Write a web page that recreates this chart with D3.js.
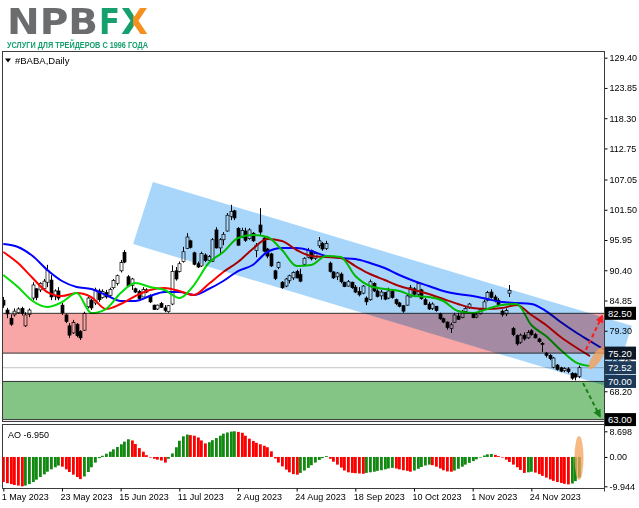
<!DOCTYPE html>
<html><head><meta charset="utf-8">
<script src="https://cdn.jsdelivr.net/npm/d3@7"></script>
<style>
body{margin:0;background:#fff;}
svg{display:block;font-family:"Liberation Sans",Arial,sans-serif;}
</style></head><body>
<svg id="c" width="639" height="508"></svg>
<script>
// ---------- DATA ----------
const dateLabels = ["1 May 2023","23 May 2023","15 Jun 2023","11 Jul 2023","2 Aug 2023","24 Aug 2023","18 Sep 2023","10 Oct 2023","1 Nov 2023","24 Nov 2023"];
const dateLabelIdx = [0,16,32,48,64,80,96,112,128,144];
const priceTicks = [129.40,123.85,118.30,112.75,107.05,101.50,95.95,90.40,84.85,79.30,73.75,68.20];
const aoTicks = [8.698,0.00,-9.944];

const opens = [84.9,83.1,81.6,82.2,82.6,83.4,80.2,82.3,85.3,87.0,86.8,87.0,88.2,88.6,85.6,86.6,84.0,82.2,80.2,78.9,80.5,79.2,79.4,83.7,84.9,84.4,86.6,85.4,86.3,85.8,
87.2,88.0,90.3,93.7,89.2,87.6,87.0,86.5,85.5,86.8,85.8,84.0,83.3,84.3,83.5,82.8,84.2,90.3,90.2,92.0,94.4,95.8,93.6,91.6,91.2,93.2,92.2,92.0,97.8,94.5,
96.0,97.6,100.3,101.3,98.1,96.4,97.6,96.2,97.2,94.0,98.7,96.3,94.3,93.4,90.3,90.9,88.2,87.5,88.5,89.0,90.2,89.6,91.5,92.8,94.0,92.6,94.9,95.3,94.4,91.7,
90.1,89.2,89.7,88.2,87.5,88.2,87.3,86.5,86.2,85.3,85.0,88.0,86.6,85.7,86.3,85.3,86.5,85.0,84.4,83.9,84.0,85.5,87.0,86.0,86.8,85.0,84.2,83.4,83.8,82.4,
81.5,80.9,79.7,80.8,82.0,81.7,82.8,83.5,82.5,81.8,82.4,83.4,84.9,86.4,85.5,84.9,82.9,82.4,86.2,79.7,78.4,77.2,78.5,78.0,79.3,78.6,77.8,77.0,75.2,74.8,
72.6,73.0,72.5,72.0,72.3,71.5,71.4,70.9];
const highs = [85.5,83.5,82.3,83.4,83.6,83.7,82.7,83.4,88.2,87.1,88.2,88.8,91.4,89.5,86.9,87.3,84.4,82.4,80.7,81.3,80.7,79.4,82.8,85.6,85.2,87.2,87.0,86.9,86.8,87.2,
88.8,89.6,92.3,94.1,89.5,89.0,87.2,86.8,87.3,87.1,86.0,84.1,84.1,84.6,84.0,84.0,91.3,91.0,92.0,94.7,97.2,96.0,93.8,92.0,93.8,93.5,93.2,96.3,98.3,96.3,
97.4,100.9,102.4,101.5,98.3,98.2,98.2,98.1,97.4,95.4,101.8,96.5,94.5,93.6,90.5,92.0,88.4,89.0,89.6,90.2,90.5,90.7,92.8,94.5,94.2,93.8,96.5,95.6,95.8,92.0,
90.2,90.1,90.0,88.3,88.6,88.3,87.7,87.3,87.7,85.6,88.7,88.2,86.9,86.8,86.4,87.2,86.8,85.2,84.6,84.0,85.9,87.7,87.3,88.2,87.0,85.3,84.6,84.5,83.8,82.6,
81.7,81.0,80.8,82.6,82.6,83.1,83.7,84.4,82.6,82.6,83.5,85.0,86.6,86.9,85.9,85.3,83.2,83.4,87.7,80.0,78.6,78.8,79.0,79.4,79.6,78.9,78.0,77.2,75.4,75.0,
74.5,73.2,72.7,72.6,72.6,71.7,71.6,72.9];
const lows = [83.5,81.6,80.2,81.9,82.4,82.1,80.0,81.8,84.9,84.9,86.4,86.7,87.3,84.9,84.9,84.9,82.2,80.7,78.0,78.7,78.1,77.6,79.3,83.4,83.1,84.0,84.6,85.2,85.2,85.5,
86.9,87.6,90.0,91.7,87.3,86.8,86.2,84.9,85.5,86.2,84.4,83.1,83.1,83.5,82.7,82.6,84.0,88.5,90.0,91.8,94.3,94.4,91.3,90.8,91.0,91.9,91.9,91.9,94.4,93.2,
95.0,97.5,99.6,99.6,94.9,96.3,95.6,96.0,95.6,92.8,96.8,93.7,92.6,91.0,88.6,90.6,87.0,87.3,88.0,88.6,88.9,88.2,91.3,92.6,92.2,92.3,94.5,94.0,94.1,90.0,
88.8,88.6,88.0,87.3,87.4,87.0,86.2,85.6,86.0,84.0,84.8,86.4,85.4,85.0,84.9,85.1,85.2,84.0,83.6,82.6,83.9,85.4,85.8,85.5,85.0,84.0,83.1,83.1,82.8,81.3,
80.7,79.5,78.9,80.7,81.3,81.6,82.5,83.3,81.6,81.6,82.3,83.3,84.7,85.2,84.5,83.9,81.9,82.0,85.5,78.3,76.6,76.9,77.5,77.8,78.4,77.9,77.1,75.4,74.4,73.9,
72.4,72.0,71.7,71.7,71.5,70.3,70.2,70.6];
const closes = [84.0,82.4,80.5,82.9,83.3,82.5,82.2,83.1,87.7,85.4,88.0,88.4,90.4,85.5,86.6,85.3,82.6,81.0,78.5,80.8,78.4,78.0,82.5,85.3,83.5,86.8,85.0,86.5,85.5,86.9,
88.5,89.4,91.8,91.9,87.5,88.8,86.4,85.2,86.9,86.4,84.6,83.2,84.0,83.6,83.0,83.9,90.2,88.8,91.6,93.8,96.5,94.6,91.5,91.0,93.5,92.2,92.9,96.0,94.5,96.0,
97.0,100.5,101.2,100.0,95.0,97.7,95.9,97.8,95.8,95.0,97.4,93.9,93.0,91.2,88.9,91.8,87.2,88.8,89.4,90.0,89.0,88.4,92.6,94.0,92.5,93.5,95.8,94.3,95.3,90.2,
89.0,89.9,88.3,87.4,88.3,87.2,86.4,85.9,87.5,84.6,88.3,86.6,85.6,86.4,85.1,86.6,85.4,84.3,83.8,82.9,85.7,87.2,86.0,88.0,85.2,84.1,83.3,84.2,83.0,81.5,
80.9,79.9,80.4,82.2,81.4,82.8,83.4,84.2,81.7,82.2,83.2,84.6,86.3,85.4,84.8,84.1,82.3,83.0,86.7,78.6,76.9,78.5,77.8,79.0,78.6,78.0,77.3,76.8,74.8,74.2,
74.3,72.2,71.9,72.4,71.8,70.6,70.8,72.52];

// Alligator lines, one value every 4 bars (index 0,4,8,...)
const lineStep = 4;
const jaw = [95.22,94.67,93.01,90.45,88.43,87.33,86.96,85.86,84.76,84.76,85.67,86.41,86.41,85.86,86.96,88.43,90.26,91.36,93.75,94.48,94.48,
93.93,93.01,92.65,92.46,91.73,90.81,89.53,88.43,87.51,86.59,86.04,85.67,85.12,84.57,84.39,84.21,82.92,80.90,79.07,77.42,75.77];
const teeth = [93.75,91.73,88.98,86.41,85.67,86.22,85.49,83.29,84.21,85.67,86.78,87.14,86.59,85.86,87.88,90.08,91.91,94.30,96.13,95.77,94.12,
93.01,92.83,92.65,91.18,89.71,88.61,87.51,86.78,86.04,85.12,84.21,83.47,83.29,83.47,84.02,82.19,80.35,78.15,76.32,74.66];
const lips = [89.53,87.33,84.76,83.66,84.57,86.22,82.55,83.29,86.22,88.06,87.33,86.78,85.31,87.69,91.73,93.75,96.32,96.87,96.50,94.12,91.18,
91.36,93.01,92.83,89.34,87.51,86.96,86.59,85.67,85.49,84.76,82.92,82.55,83.29,84.02,84.21,80.35,78.33,75.77,73.56,72.83];

// Awesome Oscillator, one value per bar
const ao = [-8.5,-8.9,-9.2,-9.5,-9.7,-9.944,-9.7,-9.2,-8.5,-7.7,-6.8,-5.9,-5.0,-4.2,-3.5,-2.9,-3.3,-4.2,-5.1,-6.0,-6.8,-7.5,-6.6,-5.1,-3.5,-1.9,-0.4,0.4,1.1,1.8,
2.6,3.4,4.3,5.2,6.0,5.6,4.4,3.0,1.8,0.6,-0.2,-0.6,-0.9,-1.2,-1.9,-0.6,1.2,3.3,5.5,7.0,7.6,7.4,7.2,6.6,5.6,4.6,5.0,5.7,6.4,7.2,
7.9,8.3,8.6,8.698,8.5,8.2,7.2,6.2,5.4,4.8,4.3,3.8,3.3,1.9,-0.5,-1.9,-3.2,-4.3,-5.2,-5.8,-6.0,-5.4,-4.6,-3.7,-2.8,-1.9,-1.0,-0.4,0.3,-0.6,
-1.6,-2.6,-3.6,-4.6,-5.2,-5.4,-5.5,-5.6,-5.7,-5.4,-5.2,-5.0,-4.7,-4.5,-4.2,-3.9,-3.7,-3.9,-4.2,-4.5,-4.7,-5.0,-4.6,-4.0,-3.4,-2.9,-2.6,-2.8,-3.3,-3.9,
-4.5,-4.9,-5.0,-4.6,-4.0,-3.3,-2.6,-2.0,-1.4,-0.8,-0.2,0.5,0.9,1.0,0.7,0.3,-0.2,-0.9,-1.7,-2.6,-3.5,-4.4,-5.4,-5.2,-5.0,-5.3,-5.8,-6.4,-7.0,-7.6,
-8.1,-8.5,-8.8,-9.1,-9.3,-9.0,-8.2,-6.95];

// Drawn objects (bar index, price)
const resistBox = [82.50, 75.20];
const supportBox = [70.00, 63.00];
const bidPrice = 72.52;
const channel = [[40.8,106.6],[171.4,80.2],[166.0,68.85],[35.4,95.2]];
const upArrow = [[158.9,75.8],[163.3,82.0]];
const downArrow = [[158.1,69.7],[162.7,63.6]];
const priceBoxes = [[82.50,"#000000"],[75.20,"#0c1828"],[72.52,"#1f3b5b"],[70.00,"#1b3858"],[63.00,"#000000"]];

// ---------- CHART ----------
const svg = d3.select("#c");
svg.append("rect").attr("width",639).attr("height",508).attr("fill","#fff");
const L = 2.5, R = 604.5, T = 51.5, B = 421.5, AT = 424.5, AB = 488.5;
const x = d3.scaleLinear().domain([0, 157]).range([3.3, 579]);
const y = d3.scaleLinear().domain([63, 129.4]).range([419.6, 57.7]);
const ya = d3.scaleLinear().domain([-9.944, 8.698]).range([486.3, 431.3]);

const defs = svg.append("defs");
defs.append("clipPath").attr("id","cm").append("rect").attr("x",L).attr("y",T).attr("width",R-L).attr("height",B-T);
defs.append("clipPath").attr("id","cobj").append("rect").attr("x",L).attr("y",T).attr("width",639-L).attr("height",B-T);
defs.append("clipPath").attr("id","ca").append("rect").attr("x",L).attr("y",AT).attr("width",R-L).attr("height",AB-AT);
const gr = defs.append("linearGradient").attr("id","xg").attr("x1","0").attr("x2","1").attr("y1","0").attr("y2","0");
gr.append("stop").attr("offset","0.45").attr("stop-color","#15a06e");
gr.append("stop").attr("offset","0.46").attr("stop-color","#f5901e");

// logo
svg.append("text").attr("x",7).attr("y",34).attr("font-family","DejaVu Sans").attr("font-weight","bold")
  .attr("font-size",36).attr("fill","#6b6c6e").attr("textLength",91).attr("lengthAdjust","spacingAndGlyphs").text("NPB");
svg.append("text").attr("x",99).attr("y",34).attr("font-family","DejaVu Sans").attr("font-weight","bold")
  .attr("font-size",36).attr("fill","#15a06e").attr("textLength",21).attr("lengthAdjust","spacingAndGlyphs").text("F");
svg.append("text").attr("x",121).attr("y",34).attr("font-family","DejaVu Sans").attr("font-weight","bold")
  .attr("font-size",36).attr("fill","url(#xg)").attr("textLength",27).attr("lengthAdjust","spacingAndGlyphs").text("X");
svg.append("text").attr("x",7).attr("y",47.5).attr("font-weight","bold").attr("font-size",8.5)
  .attr("fill","#15a06e").attr("textLength",141).attr("lengthAdjust","spacingAndGlyphs").text("УСЛУГИ ДЛЯ ТРЕЙДЕРОВ С 1996 ГОДА");

// main panel content
const gm = svg.append("g").attr("clip-path","url(#cm)");
gm.append("line").attr("x1",L).attr("x2",R).attr("y1",y(bidPrice)).attr("y2",y(bidPrice)).attr("stroke","#c4c4c4").attr("stroke-width",1);

const idx = d3.range(closes.length);
gm.selectAll(".wick").data(idx).join("line")
  .attr("x1",i=>Math.round(x(i))+0.5).attr("x2",i=>Math.round(x(i))+0.5)
  .attr("y1",i=>y(highs[i])).attr("y2",i=>y(lows[i])).attr("stroke","#000").attr("stroke-width",1);
gm.selectAll(".body").data(idx).join("rect")
  .attr("x",i=>Math.round(x(i))-1).attr("width",3)
  .attr("y",i=>y(Math.max(opens[i],closes[i])))
  .attr("height",i=>Math.max(0.8,Math.abs(y(opens[i])-y(closes[i]))))
  .attr("fill",i=>closes[i]>=opens[i]?"#fff":"#000").attr("stroke","#000").attr("stroke-width",0.7);

const lineGen = d3.line().x((d,k)=>x(k*lineStep)).y(d=>y(d)).curve(d3.curveMonotoneX);
gm.append("path").attr("d",lineGen(jaw)).attr("fill","none").attr("stroke","#0000ff").attr("stroke-width",2);
gm.append("path").attr("d",lineGen(teeth)).attr("fill","none").attr("stroke","#ff0000").attr("stroke-width",2);
gm.append("path").attr("d",lineGen(lips)).attr("fill","none").attr("stroke","#00dd00").attr("stroke-width",2);

// objects (multiply blend, drawn directly at root so they blend with the chart)
svg.append("rect").attr("x",L).attr("width",R-L).attr("y",y(resistBox[0])).attr("height",y(resistBox[1])-y(resistBox[0]))
  .attr("fill","#f9a6a6").attr("stroke","#333").attr("stroke-width",1).style("mix-blend-mode","multiply");
svg.append("rect").attr("x",L).attr("width",R-L).attr("y",y(supportBox[0])).attr("height",y(supportBox[1])-y(supportBox[0]))
  .attr("fill","#84c484").attr("stroke","#333").attr("stroke-width",1).style("mix-blend-mode","multiply");
svg.append("polygon").attr("points",channel.map(d=>[x(d[0]),y(d[1])].join(",")).join(" "))
  .attr("clip-path","url(#cobj)")
  .attr("fill","#a8d6fb").style("mix-blend-mode","multiply");

// frames
svg.append("rect").attr("x",L).attr("y",T).attr("width",R-L).attr("height",B-T).attr("fill","none").attr("stroke","#3c3c3c");
svg.append("rect").attr("x",L).attr("y",AT).attr("width",R-L).attr("height",AB-AT).attr("fill","none").attr("stroke","#3c3c3c");

// title
svg.append("path").attr("d","M5,58.5 L11,58.5 L8,62.5 Z").attr("fill","#000");
svg.append("text").attr("x",15).attr("y",63.5).attr("font-size",9.5).attr("fill","#000").text("#BABA,Daily");

// price axis
const pa = svg.append("g").attr("transform",`translate(${R},0)`).call(d3.axisRight(y).tickValues(priceTicks).tickSize(3).tickFormat(d3.format(".2f")));
pa.select(".domain").remove();
pa.selectAll("text").attr("font-size",9).attr("font-family","Liberation Sans, Arial").attr("x",5).attr("fill","#000");
pa.selectAll("line").attr("stroke","#000");

// price boxes
const pb = svg.append("g").selectAll("g").data(priceBoxes).join("g").attr("transform",d=>`translate(605,${y(d[0])})`);
pb.append("rect").attr("x",0).attr("y",-6.5).attr("width",31).attr("height",13).attr("fill",d=>d[1]);
pb.append("text").attr("x",3).attr("y",3.5).attr("font-size",9.5).attr("fill","#fff").text(d=>d3.format(".2f")(d[0]));

// arrows & ellipse
defs.append("marker").attr("id","mr").attr("viewBox","0 0 10 10").attr("refX",8).attr("refY",5).attr("markerWidth",4).attr("markerHeight",4).attr("orient","auto")
  .append("path").attr("d","M0,0 L10,5 L0,10 Z").attr("fill","#ff1a1a");
defs.append("marker").attr("id","mg").attr("viewBox","0 0 10 10").attr("refX",8).attr("refY",5).attr("markerWidth",4).attr("markerHeight",4).attr("orient","auto")
  .append("path").attr("d","M0,0 L10,5 L0,10 Z").attr("fill","#1a7f1a");
svg.append("line").attr("x1",x(upArrow[0][0])).attr("y1",y(upArrow[0][1])).attr("x2",x(upArrow[1][0])).attr("y2",y(upArrow[1][1]))
  .attr("stroke","#ff1a1a").attr("stroke-width",2).attr("stroke-dasharray","4,3").attr("marker-end","url(#mr)");
svg.append("line").attr("x1",x(downArrow[0][0])).attr("y1",y(downArrow[0][1])).attr("x2",x(downArrow[1][0])).attr("y2",y(downArrow[1][1]))
  .attr("stroke","#1a7f1a").attr("stroke-width",2).attr("stroke-dasharray","4,3").attr("marker-end","url(#mg)");
svg.append("ellipse").attr("cx",x(161.8)).attr("cy",y(74.3)).attr("rx",13).attr("ry",4.5)
  .attr("transform",`rotate(-57,${x(161.8)},${y(74.3)})`).attr("fill","#f4a05a").attr("opacity",0.8);

// AO panel
const ga = svg.append("g").attr("clip-path","url(#ca)");
ga.selectAll("rect").data(ao).join("rect")
  .attr("x",(d,i)=>Math.round(x(i))-1).attr("width",2.8)
  .attr("y",d=>Math.min(ya(0),ya(d))).attr("height",d=>Math.abs(ya(d)-ya(0)))
  .attr("fill",(d,i)=>(i>0 && d>ao[i-1])?"#108a10":"#ff0000");
svg.append("ellipse").attr("cx",x(157)).attr("cy",458).attr("rx",4.5).attr("ry",22).attr("fill","#f4a05a").attr("opacity",0.75);
svg.append("text").attr("x",8).attr("y",438).attr("font-size",9).attr("fill","#000").text("AO -6.950");
const aa = svg.append("g").attr("transform",`translate(${R},0)`).call(d3.axisRight(ya).tickValues(aoTicks).tickSize(3).tickFormat(d=>d===0?"0.00":String(d)));
aa.select(".domain").remove();
aa.selectAll("text").attr("font-size",9).attr("font-family","Liberation Sans, Arial").attr("x",5).attr("fill","#000");
aa.selectAll("line").attr("stroke","#000");

// time axis
const ta = svg.append("g").attr("transform",`translate(0,${AB})`)
  .call(d3.axisBottom(x).tickValues(dateLabelIdx).tickSize(3).tickFormat((d,i)=>dateLabels[i]));
ta.select(".domain").remove();
ta.selectAll("text").attr("font-size",9).attr("font-family","Liberation Sans, Arial").attr("text-anchor","start").attr("dx",-2).attr("y",5).attr("fill","#000");
ta.selectAll("line").attr("stroke","#000");

// price axis vertical line
svg.append("line").attr("x1",R).attr("x2",R).attr("y1",T).attr("y2",AB+3).attr("stroke","#3c3c3c");
</script>
</body></html>
